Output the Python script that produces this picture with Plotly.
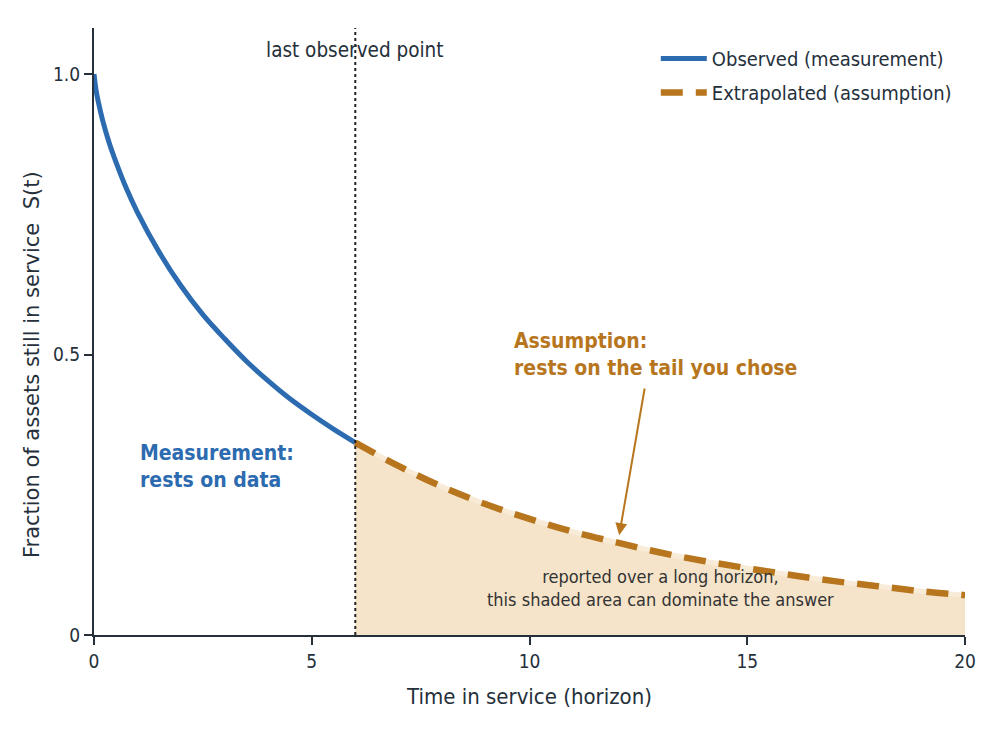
import plotly.graph_objects as go

# survival curve
t_obs = [0, 0.05, 0.1, 0.2, 0.35, 0.5, 0.75, 1, 1.5, 2, 2.5, 3, 3.5, 4, 4.5, 5, 5.5, 6]
s_obs = [1.0, 0.97, 0.95, 0.917, 0.877, 0.844, 0.795, 0.753, 0.682, 0.622, 0.571, 0.528,
         0.488, 0.453, 0.421, 0.393, 0.367, 0.343]

t_ext = [6, 7, 8, 9, 10, 11, 12, 13, 14, 15, 16, 17, 18, 19, 20]
s_ext = [0.343, 0.301, 0.264, 0.233, 0.207, 0.184, 0.165, 0.147, 0.132, 0.119, 0.107, 0.096, 0.087, 0.078, 0.071]

t_last = 6
x_ticks = [0, 5, 10, 15, 20]
y_ticks = [0, 0.5, 1.0]
y_tick_text = ["0", "0.5", "1.0"]

BLUE = "#2c6bb0"
ORANGE = "#b7761e"
INK = "#25303b"
FONT = "DejaVu Sans Condensed, DejaVu Sans, sans-serif"

fig = go.Figure()

# shaded tail
fig.add_trace(go.Scatter(x=t_ext, y=s_ext, mode="lines", fill="tozeroy",
                         fillcolor="#f5e4ca", line=dict(color="#f8ebd8", width=5, shape="spline"),
                         showlegend=False, hoverinfo="skip"))

fig.add_trace(go.Scatter(x=t_obs, y=s_obs, mode="lines", name="Observed (measurement)",
                         legendgroup="obs",
                         line=dict(color=BLUE, width=5, shape="spline")))
fig.add_trace(go.Scatter(x=t_ext, y=s_ext, mode="lines", name="Extrapolated (assumption)",
                         legendgroup="ext",
                         line=dict(color=ORANGE, width=6.5, dash="22px,13px", shape="spline")))

# last observed point marker line
fig.add_shape(type="line", x0=t_last, x1=t_last, y0=0, y1=1, yref="paper",
              line=dict(color="#222222", width=2, dash="dot"))

fig.add_annotation(x=t_last, y=1.043, text="last observed point", showarrow=False,
                   xanchor="center", yanchor="middle", font=dict(size=20.5, color=INK, family=FONT))
fig.add_annotation(x=1.0, y=0.30, text="<b>Measurement:<br>rests on data</b>", showarrow=False,
                   xanchor="left", yanchor="middle", align="left",
                   font=dict(size=21, color=BLUE, family=FONT))
fig.add_annotation(x=9.6, y=0.50, text="<b>Assumption:<br>rests on the tail you chose</b>", showarrow=False,
                   xanchor="left", yanchor="middle", align="left",
                   font=dict(size=21, color=ORANGE, family=FONT))
fig.add_annotation(x=12.06, y=0.178, ax=12.65, ay=0.442, axref="x", ayref="y",
                   text="", showarrow=True, arrowhead=2, arrowsize=1.2, arrowwidth=2, arrowcolor=ORANGE)
fig.add_annotation(x=13.0, y=0.084, text="reported over a long horizon,<br>this shaded area can dominate the answer",
                   showarrow=False, xanchor="center", yanchor="middle", align="center",
                   font=dict(size=18, color="#333333", family=FONT))
# y axis title placed by hand (sits a bit below the axis centre)
fig.add_annotation(xref="paper", yref="paper", x=-0.071, y=0.445, textangle=-90,
                   text="Fraction of assets still in service  S(t)", showarrow=False,
                   xanchor="center", yanchor="middle",
                   font=dict(size=21, color=INK, family="DejaVu Sans, sans-serif"))

fig.update_layout(
    width=1000, height=741,
    margin=dict(l=86, r=43, t=20, b=114),
    plot_bgcolor="white", paper_bgcolor="white",
    font=dict(family=FONT, color=INK),
    legend=dict(x=0.645, y=0.982, xanchor="left", yanchor="top",
                font=dict(size=20, color=INK, family=FONT), tracegroupgap=5,
                bgcolor="rgba(255,255,255,0)", itemwidth=46),
    xaxis=dict(range=[0, 20], tickvals=x_ticks, showgrid=False, zeroline=False,
               showline=True, linecolor=INK, linewidth=2, ticks="outside", ticklen=8,
               tickcolor=INK, tickwidth=2, tickfont=dict(size=19, color=INK),
               title=dict(text="Time in service (horizon)", font=dict(size=22, color=INK), standoff=18)),
    yaxis=dict(range=[0, 1.082], tickvals=y_ticks, ticktext=y_tick_text, showgrid=False, zeroline=False,
               showline=True, linecolor=INK, linewidth=2, ticks="outside", ticklen=8,
               tickcolor=INK, tickwidth=2, tickfont=dict(size=19, color=INK)),
)

fig.write_html("out.html")
